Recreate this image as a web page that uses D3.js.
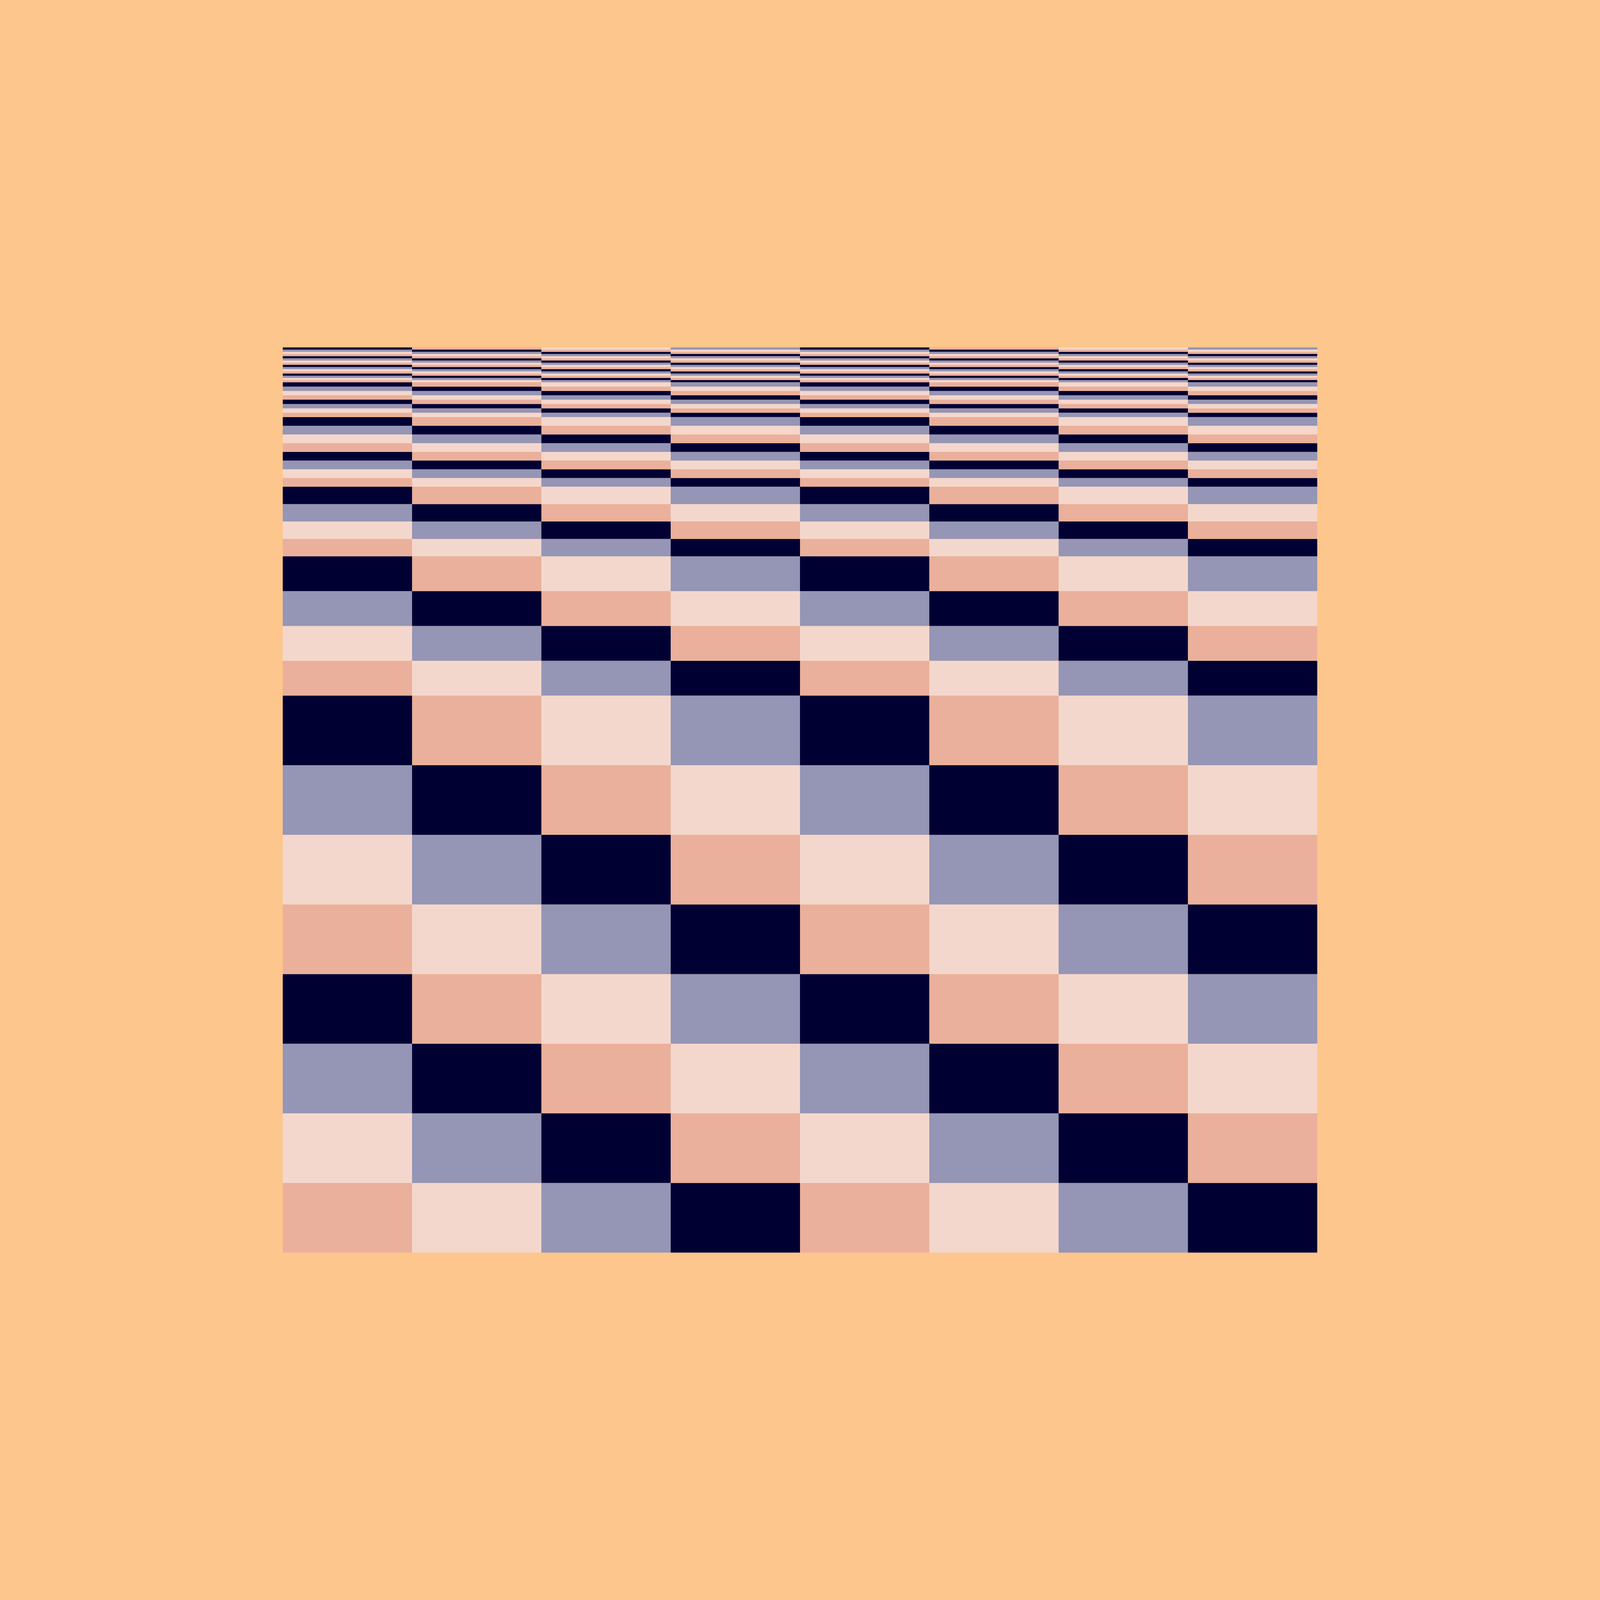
<!DOCTYPE html>
<html>
<head>
<meta charset="utf-8">
<script src="https://cdn.jsdelivr.net/npm/d3@7"></script>
<style>
  html, body { margin: 0; padding: 0; background: #fdc68d; overflow: hidden; }
  #chart svg { display: block; width: 100vw; height: 100vh; }
</style>
</head>
<body>
<div id="chart"></div>
<script>
var W = 4200, H = 4800,
    side = 2715.5,
    margin = {left: (W - side) / 2, top: (H - side) / 2};

// eight columns, each a stack of bands (bottom -> top)
var columns = ["A", "B", "C", "D", "E", "F", "G", "H"];
var bandValues = [
    32, 32, 32, 32, 32, 32, 32, 32,
    16, 16, 16, 16,
    8, 8, 8, 8,
    4, 4, 4, 4, 4, 4, 4, 4,
    2, 2, 2, 2, 2, 2, 2, 2,
    1, 1, 1, 1, 1, 1, 1, 1, 1, 1, 1, 1, 1, 1, 1, 1
];
var palette = ["#eab09b", "#f4d7cc", "#9595b5", "#000033"];

var keys = bandValues.map(function(d, i) { return "b" + i; });
var rows = columns.map(function(c) {
    var r = {col: c};
    bandValues.forEach(function(v, i) { r["b" + i] = v; });
    return r;
});

var stacked = d3.stack().keys(keys)(rows);

var x = d3.scaleBand().domain(columns).range([0, side]).padding(0);
var y = d3.scaleLinear()
    .domain([0, d3.sum(bandValues)])
    .range([side, 0]);

// drawn in a 4200x4800 box, stretched to whatever the window is
var svg = d3.select("#chart").append("svg")
    .attr("viewBox", "0 0 " + W + " " + H)
    .attr("preserveAspectRatio", "none");

svg.append("rect")
    .attr("width", W)
    .attr("height", H)
    .attr("fill", "#fdc68d");

var g = svg.append("g")
    .attr("transform", "translate(" + margin.left + "," + margin.top + ")");

g.selectAll("g.band")
    .data(stacked)
    .enter()
    .append("g")
    .attr("class", "band")
    .each(function(layer, li) {
        d3.select(this).selectAll("rect")
            .data(layer)
            .enter()
            .append("rect")
            .attr("x", function(d) { return x(d.data.col); })
            .attr("width", x.bandwidth())
            .attr("y", function(d) { return y(d[1]); })
            .attr("height", function(d) { return y(d[0]) - y(d[1]); })
            .attr("fill", function(d, ci) { return palette[(ci + li) % 4]; });
    });
</script>
</body>
</html>
